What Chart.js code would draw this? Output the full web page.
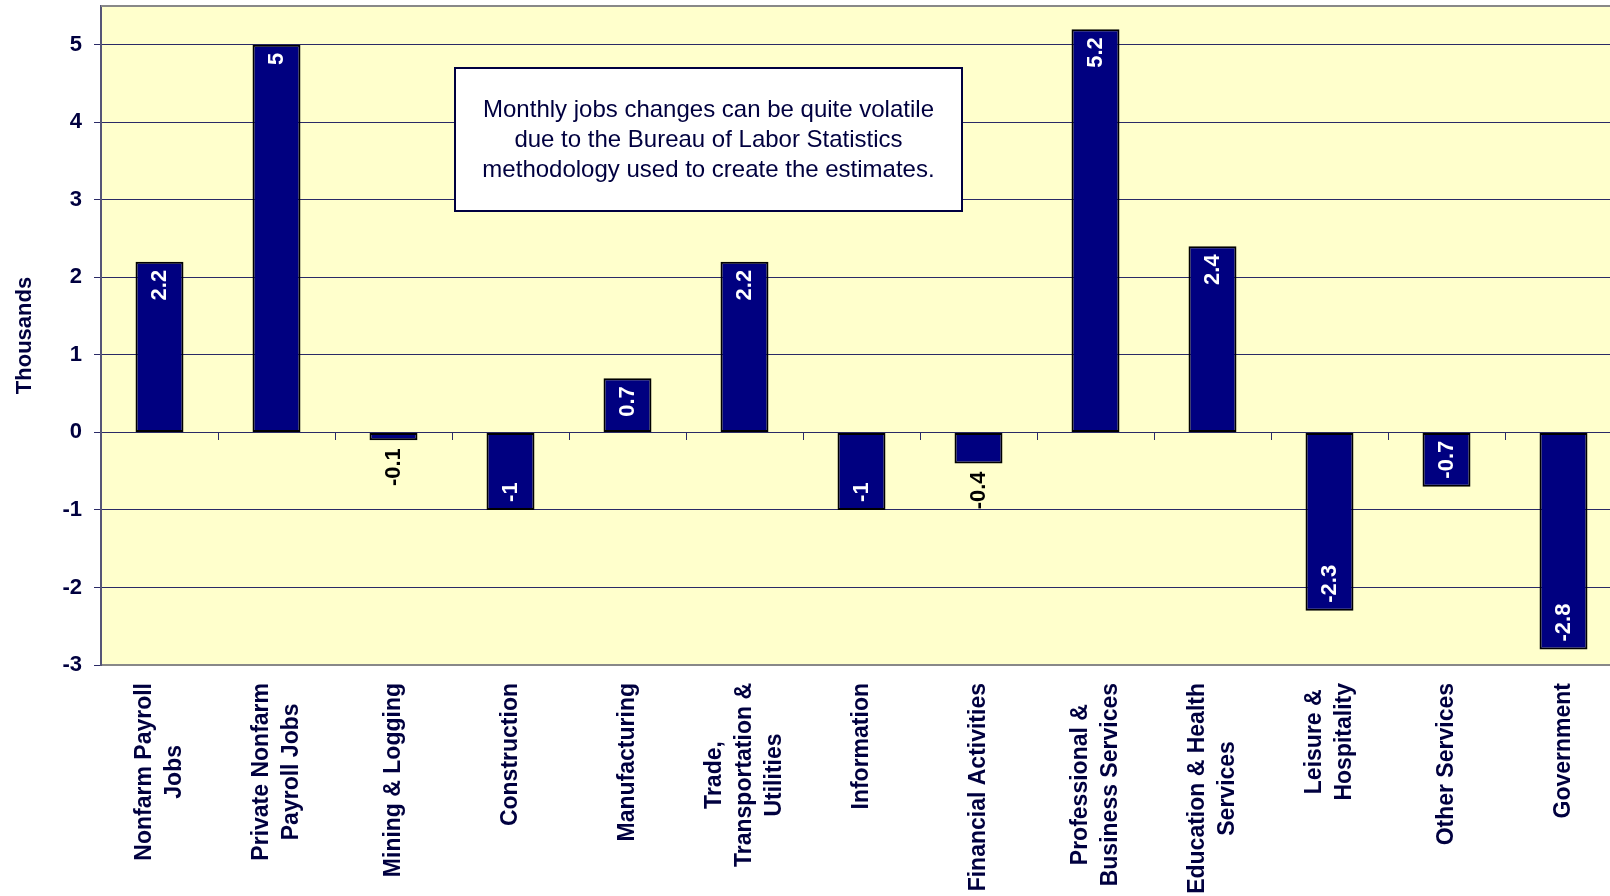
<!DOCTYPE html>
<html>
<head>
<meta charset="utf-8">
<script src="https://cdn.jsdelivr.net/npm/chart.js@4.4.1/dist/chart.umd.min.js"></script>
<style>
  html, body { margin: 0; padding: 0; background: #ffffff; overflow: hidden; }
  #wrap { width: 1625px; height: 896px; }
</style>
</head>
<body>
<div id="wrap"><canvas id="c" width="1625" height="896"></canvas></div>
<script>
const categories = [
  ["Nonfarm Payroll", "Jobs"],
  ["Private Nonfarm", "Payroll Jobs"],
  ["Mining & Logging"],
  ["Construction"],
  ["Manufacturing"],
  ["Trade,", "Transportation &", "Utilities"],
  ["Information"],
  ["Financial Activities"],
  ["Professional &", "Business Services"],
  ["Education & Health", "Services"],
  ["Leisure &", "Hospitality"],
  ["Other Services"],
  ["Government"]
];
const jobChanges = [2.2, 5, -0.1, -1, 0.7, 2.2, -1, -0.4, 5.2, 2.4, -2.3, -0.7, -2.8];
const yMin = -3;
const yMax = 5.5;
const yStep = 1;
const yAxisTitle = "Thousands";
const noteLines = [
  "Monthly jobs changes can be quite volatile",
  "due to the Bureau of Labor Statistics",
  "methodology used to create the estimates."
];

const FONT = '"Liberation Sans", Arial, Helvetica, sans-serif';
const TEXT = '#00003f';
const GRID = '#2a2a66';

const bgPlugin = {
  id: 'plotBg',
  beforeDraw(chart) {
    const {ctx, chartArea: a} = chart;
    ctx.save();
    ctx.fillStyle = '#ffffcc';
    ctx.fillRect(a.left, a.top, a.right - a.left, a.bottom - a.top);
    ctx.restore();
  },
  afterDraw(chart) {
    const {ctx, chartArea: a} = chart;
    ctx.save();
    ctx.strokeStyle = '#888888';
    ctx.lineWidth = 2;
    ctx.beginPath();
    ctx.moveTo(a.left, a.top);
    ctx.lineTo(a.right + 10, a.top);
    ctx.stroke();
    ctx.restore();
  }
};

const valueLabels = {
  id: 'valueLabels',
  afterDatasetsDraw(chart) {
    const {ctx} = chart;
    const meta = chart.getDatasetMeta(0);
    ctx.save();
    ctx.font = 'bold 22px ' + FONT;
    ctx.textAlign = 'center';
    ctx.textBaseline = 'middle';
    meta.data.forEach((bar, i) => {
      const v = jobChanges[i];
      const txt = String(v);
      const w = ctx.measureText(txt).width;
      const top = Math.min(bar.y, bar.base);
      const bottom = Math.max(bar.y, bar.base);
      const h = bottom - top;
      const gap = 8;
      let cy, color;
      if (h >= w + 10) {
        color = '#ffffff';
        cy = v >= 0 ? top + gap + w / 2 : bottom - gap - w / 2;
      } else {
        color = '#000000';
        cy = v >= 0 ? top - gap - w / 2 : bottom + gap + w / 2;
      }
      ctx.fillStyle = color;
      ctx.save();
      ctx.translate(bar.x, cy);
      ctx.rotate(-Math.PI / 2);
      ctx.fillText(txt, 0, 0);
      ctx.restore();
    });
    ctx.restore();
  }
};

const categoryLabels = {
  id: 'categoryLabels',
  afterDraw(chart) {
    const {ctx, chartArea: a} = chart;
    const xs = chart.scales.x;
    ctx.save();
    ctx.font = 'bold 23px ' + FONT;
    ctx.fillStyle = TEXT;
    ctx.textAlign = 'center';
    ctx.textBaseline = 'middle';
    const lineH = 30;
    categories.forEach((lines, i) => {
      const px = xs.getPixelForTick(i);
      const W = Math.max(...lines.map(l => ctx.measureText(l).width));
      const top = a.bottom + 18;
      ctx.save();
      ctx.translate(px, top);
      ctx.rotate(-Math.PI / 2);
      lines.forEach((l, j) => {
        const v = (j - (lines.length - 1) / 2) * lineH;
        ctx.fillText(l, -W / 2, v);
      });
      ctx.restore();
    });
    ctx.restore();
  }
};

const noteBox = {
  id: 'noteBox',
  afterDatasetsDraw(chart) {
    const {ctx} = chart;
    const x0 = 455, y0 = 68, x1 = 962, y1 = 211;
    ctx.save();
    ctx.fillStyle = '#ffffff';
    ctx.fillRect(x0, y0, x1 - x0, y1 - y0);
    ctx.strokeStyle = '#000040';
    ctx.lineWidth = 2;
    ctx.strokeRect(x0, y0, x1 - x0, y1 - y0);
    ctx.font = '24px ' + FONT;
    ctx.fillStyle = TEXT;
    ctx.textAlign = 'center';
    ctx.textBaseline = 'alphabetic';
    const cx = (x0 + x1) / 2;
    noteLines.forEach((l, j) => ctx.fillText(l, cx, 117 + j * 30));
    ctx.restore();
  }
};

new Chart(document.getElementById('c'), {
  type: 'bar',
  data: {
    labels: categories,
    datasets: [{
      data: jobChanges,
      backgroundColor: '#000080',
      borderColor: '#000000',
      borderWidth: 2,
      borderSkipped: false,
      barPercentage: 0.41,
      categoryPercentage: 1.0,
      xAxisID: 'x',
      yAxisID: 'y'
    }]
  },
  options: {
    responsive: false,
    animation: false,
    devicePixelRatio: 1,
    layout: { padding: { top: 6, right: 3, left: 0, bottom: 0 } },
    plugins: { legend: { display: false }, tooltip: { enabled: false } },
    scales: {
      x: {
        type: 'category',
        position: 'bottom',
        offset: true,
        grid: { display: false, offset: true },
        border: { display: true, color: '#888888', width: 2 },
        ticks: { display: false },
        afterFit(s) { s.height = 231; s.paddingLeft = 0; s.paddingRight = 0; }
      },
      x2: {
        type: 'category',
        axis: 'x',
        position: { y: 0 },
        offset: true,
        grid: { display: true, offset: true, drawOnChartArea: false, drawTicks: true, tickLength: 7, color: GRID, lineWidth: 1 },
        border: { display: true, color: GRID, width: 1 },
        ticks: { display: false }
      },
      y: {
        type: 'linear',
        position: 'left',
        min: yMin,
        max: yMax,
        grid: { color: GRID, lineWidth: 1, tickLength: 7, drawTicks: true },
        border: { display: true, color: '#555577', width: 2 },
        ticks: {
          stepSize: yStep,
          includeBounds: false,
          padding: 12,
          color: TEXT,
          font: { family: FONT, size: 22, weight: 'bold' }
        },
        title: {
          display: true,
          text: yAxisTitle,
          color: TEXT,
          font: { family: FONT, size: 22, weight: 'bold' },
          padding: { top: 12, bottom: 4 }
        },
        afterFit(s) { s.width = 101; s.paddingTop = 0; s.paddingBottom = 0; }
      }
    }
  },
  plugins: [bgPlugin, valueLabels, noteBox, categoryLabels]
});
</script>
</body>
</html>
